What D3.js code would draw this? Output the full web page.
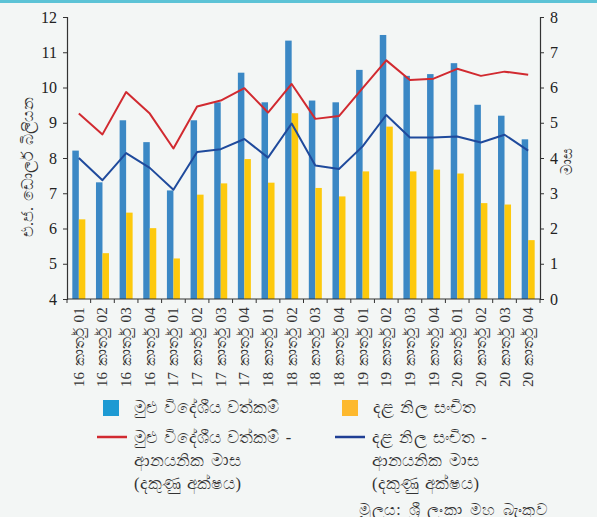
<!DOCTYPE html>
<html>
<head>
<meta charset="utf-8">
<script src="https://cdn.jsdelivr.net/npm/d3@7"></script>
<style>
  body { margin: 0; background: #f3f6f5; }
  svg { display: block; }
</style>
</head>
<body>
<div id="chart"></div>
<script>
var categories = ["16 කාර්තු 01", "16 කාර්තු 02", "16 කාර්තු 03", "16 කාර්තු 04",
	"17 කාර්තු 01", "17 කාර්තු 02", "17 කාර්තු 03", "17 කාර්තු 04",
	"18 කාර්තු 01", "18 කාර්තු 02", "18 කාර්තු 03", "18 කාර්තු 04",
	"19 කාර්තු 01", "19 කාර්තු 02", "19 කාර්තු 03", "19 කාර්තු 04",
	"20 කාර්තු 01", "20 කාර්තු 02", "20 කාර්තු 03", "20 කාර්තු 04"];

// US$ billion (left axis)
var totalAssets = [8.21, 7.31, 9.07, 8.45, 7.08, 9.07, 9.58, 10.42, 9.58, 11.33,
	9.63, 9.58, 10.50, 11.49, 10.33, 10.38, 10.69, 9.51, 9.20, 8.53];
var officialReserves = [6.26, 5.30, 6.45, 6.01, 5.15, 6.96, 7.28, 7.97, 7.30, 9.27,
	7.15, 6.91, 7.62, 8.89, 7.62, 7.67, 7.56, 6.72, 6.68, 5.67];

// months of imports (right axis)
var totalAssetsMonths = [5.26, 4.67, 5.87, 5.26, 4.27, 5.46, 5.63, 5.98, 5.29, 6.10,
	5.11, 5.19, 5.98, 6.77, 6.21, 6.25, 6.53, 6.33, 6.45, 6.36];
var reservesMonths = [4.00, 3.37, 4.14, 3.72, 3.10, 4.17, 4.25, 4.54, 4.01, 4.98,
	3.79, 3.69, 4.33, 5.22, 4.58, 4.58, 4.61, 4.44, 4.66, 4.21];

var leftTicks = [4, 5, 6, 7, 8, 9, 10, 11, 12];
var rightTicks = [0, 1, 2, 3, 4, 5, 6, 7, 8];

var legendItems = [
	{type: "rect", color: "#1d9ad3", lines: ["මුළු විදේශීය වත්කම්"]},
	{type: "rect", color: "#fdb92e", lines: ["දළ නිල සංචිත"]},
	{type: "line", color: "#d12a30", lines: ["මුළු විදේශීය වත්කම් -", "ආනයනික මාස", "(දකුණු අක්ෂය)"]},
	{type: "line", color: "#1f3f94", lines: ["දළ නිල සංචිත -", "ආනයනික මාස", "(දකුණු අක්ෂය)"]}
];

var elWidth = 597, elHeight = 517;
var margin = {top: 17, right: 57, bottom: 218, left: 67};
var width = elWidth - margin.left - margin.right;
var height = elHeight - margin.top - margin.bottom;

var svg = d3.select("#chart").append("svg")
	.attr("width", elWidth)
	.attr("height", elHeight);

svg.append("rect").attr("width", elWidth).attr("height", elHeight).attr("fill", "#f3f6f5");
svg.append("rect").attr("x", 0).attr("y", 0).attr("width", elWidth).attr("height", 3).attr("fill", "#5cc3d6");

var g = svg.append("g").attr("transform", "translate(" + margin.left + "," + margin.top + ")");

var x = d3.scaleBand().domain(categories).range([0, width]).paddingInner(0.45).paddingOuter(0.225);
var band = d3.scaleBand().domain(categories).range([0, width]);
var sub = d3.scaleBand().domain(["total", "reserves"]).range([0, x.bandwidth()]);
var yLeft = d3.scaleLinear().domain([4, 12]).range([height, 0]);
var yRight = d3.scaleLinear().domain([0, 8]).range([height, 0]);

var serif = "'Liberation Serif', 'DejaVu Serif', serif";

// bars
g.selectAll(".bar-total").data(totalAssets).enter().append("rect")
	.attr("x", function(d, i) { return x(categories[i]) + sub("total"); })
	.attr("y", function(d) { return yLeft(d); })
	.attr("width", sub.bandwidth())
	.attr("height", function(d) { return height - yLeft(d); })
	.attr("fill", "#3b88c5");

g.selectAll(".bar-res").data(officialReserves).enter().append("rect")
	.attr("x", function(d, i) { return x(categories[i]) + sub("reserves"); })
	.attr("y", function(d) { return yLeft(d); })
	.attr("width", sub.bandwidth())
	.attr("height", function(d) { return height - yLeft(d); })
	.attr("fill", "#fdc90d");

// lines
var line = d3.line()
	.x(function(d, i) { return band(categories[i]) + band.bandwidth() / 2; })
	.y(function(d) { return yRight(d); });

g.append("path").datum(totalAssetsMonths)
	.attr("fill", "none").attr("stroke", "#d12a30").attr("stroke-width", 2)
	.attr("stroke-linejoin", "round").attr("d", line);

g.append("path").datum(reservesMonths)
	.attr("fill", "none").attr("stroke", "#1f4a9c").attr("stroke-width", 2)
	.attr("stroke-linejoin", "round").attr("d", line);

// axes
var leftAxis = g.append("g")
	.call(d3.axisLeft(yLeft).tickValues(leftTicks).tickSize(4).tickPadding(6));
var rightAxis = g.append("g")
	.attr("transform", "translate(" + width + ",0)")
	.call(d3.axisRight(yRight).tickValues(rightTicks).tickSize(4).tickPadding(6));

[leftAxis, rightAxis].forEach(function(ax) {
	ax.select(".domain").attr("stroke", "#333").attr("stroke-width", 1.2);
	ax.selectAll(".tick line").attr("stroke", "#333");
	ax.selectAll(".tick text").attr("font-family", serif).attr("font-size", 16).attr("fill", "#222");
});

// bottom axis with ticks at band boundaries
var bottom = g.append("g").attr("transform", "translate(0," + height + ")");
bottom.append("line").attr("x1", 0).attr("x2", width).attr("stroke", "#333").attr("stroke-width", 1.2);
bottom.selectAll(".btick").data(categories.concat(["_end"])).enter().append("line")
	.attr("x1", function(d, i) { return i * band.step(); })
	.attr("x2", function(d, i) { return i * band.step(); })
	.attr("y1", 0).attr("y2", 4)
	.attr("stroke", "#333");
bottom.selectAll(".blabel").data(categories).enter().append("text")
	.attr("transform", function(d) {
		return "translate(" + (band(d) + band.bandwidth() / 2 + 5) + ",8) rotate(-90)";
	})
	.attr("text-anchor", "end")
	.attr("font-family", serif)
	.attr("font-size", 15)
	.attr("letter-spacing", 0.2)
	.attr("word-spacing", 1.5)
	.attr("fill", "#333")
	.text(function(d) { return d; });

// axis titles
svg.append("text")
	.attr("transform", "translate(33,167) rotate(-90)")
	.attr("text-anchor", "middle")
	.attr("font-size", 16)
	.attr("word-spacing", 2)
	.attr("fill", "#333")
	.text("එ.ජ. ඩොලර් බිලියන");

svg.append("text")
	.attr("transform", "translate(572,161) rotate(-90)")
	.attr("text-anchor", "middle")
	.attr("font-size", 15)
	.attr("fill", "#333")
	.text("මාස");

// legend
var legendPos = [{x: 103, y: 400}, {x: 342, y: 400}, {x: 97, y: 437}, {x: 335, y: 437}];
legendItems.forEach(function(item, i) {
	var p = legendPos[i];
	var lg = svg.append("g").attr("transform", "translate(" + p.x + "," + p.y + ")")
		.attr("font-size", 16.5).attr("letter-spacing", 0.1).attr("word-spacing", 2).attr("fill", "#333");
	if (item.type === "rect") {
		lg.append("rect").attr("width", 16).attr("height", 16).attr("fill", item.color);
		lg.append("text").attr("x", 31).attr("y", 13).text(item.lines[0]);
	} else {
		lg.append("line").attr("x1", 0).attr("x2", 30).attr("y1", 0).attr("y2", 0)
			.attr("stroke", item.color).attr("stroke-width", 2.5);
		item.lines.forEach(function(t, j) {
			lg.append("text").attr("x", 37).attr("y", 6 + j * 23).text(t);
		});
	}
});

svg.append("text")
	.attr("x", 548).attr("y", 515)
	.attr("text-anchor", "end")
	.attr("font-size", 16)
	.attr("letter-spacing", 0.4)
	.attr("word-spacing", 3)
	.attr("fill", "#333")
	.text("මූලය: ශ්‍රී ලංකා මහ බැංකුව");
</script>
</body>
</html>
